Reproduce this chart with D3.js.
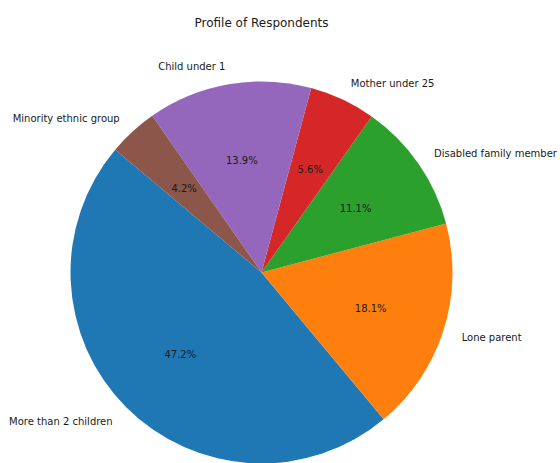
<!DOCTYPE html>
<html>
<head>
<meta charset="utf-8">
<script src="https://cdn.jsdelivr.net/npm/d3@7"></script>
<style>
  html, body { margin: 0; padding: 0; background: #fff; }
  svg { display: block; }
  text { font-family: "DejaVu Sans", sans-serif; fill: #1a1a1a; }
</style>
</head>
<body>
<svg id="chart" width="560" height="463"></svg>
<script>
const labels = ["More than 2 children", "Lone parent", "Disabled family member", "Mother under 25", "Child under 1", "Minority ethnic group"];
const values = [47.2, 18.1, 11.1, 5.6, 13.9, 4.2];
const colors = ["#1f77b4", "#ff7f0e", "#2ca02c", "#d62728", "#9467bd", "#8c564b"];
const title = "Profile of Respondents";
const startAngleDeg = 140; // matplotlib-style, counterclockwise from +x

const W = 560, H = 463;
const cx = 261.5, cy = 272.5, R = 191;

const svg = d3.select("#chart");

const total = d3.sum(values);
const toRad = d => d * Math.PI / 180;

const angleScale = d3.scaleLinear().domain([0, total]).range([startAngleDeg, startAngleDeg + 360]);

let cum = 0;
const slices = values.map((v, i) => {
  const a0 = angleScale(cum);
  cum += v;
  const a1 = angleScale(cum);
  return { i, v, a0, a1, mid: (a0 + a1) / 2 };
});

const arc = d3.arc().innerRadius(0).outerRadius(R);

const g = svg.append("g").attr("transform", `translate(${cx},${cy})`);

g.selectAll("path.wedge")
  .data(slices)
  .join("path")
  .attr("class", "wedge")
  .attr("fill", d => colors[d.i])
  .attr("d", d => arc({ startAngle: toRad(90 - d.a0), endAngle: toRad(90 - d.a1) }));

g.selectAll("text.lbl")
  .data(slices)
  .join("text")
  .attr("class", "lbl")
  .attr("x", d => 1.1 * R * Math.cos(toRad(d.mid)))
  .attr("y", d => -1.1 * R * Math.sin(toRad(d.mid)) + 1)
  .attr("text-anchor", d => Math.cos(toRad(d.mid)) > 0 ? "start" : "end")
  .attr("dominant-baseline", "central")
  .attr("font-size", 10)
  .text(d => labels[d.i]);

g.selectAll("text.pct")
  .data(slices)
  .join("text")
  .attr("class", "pct")
  .attr("x", d => 0.6 * R * Math.cos(toRad(d.mid)))
  .attr("y", d => -0.6 * R * Math.sin(toRad(d.mid)) + 1)
  .attr("text-anchor", "middle")
  .attr("dominant-baseline", "central")
  .attr("font-size", 10)
  .text(d => d3.format(".1f")(d.v) + "%");

svg.append("text")
  .attr("x", cx)
  .attr("y", 23)
  .attr("text-anchor", "middle")
  .attr("dominant-baseline", "central")
  .attr("font-size", 12)
  .text(title);
</script>
</body>
</html>
